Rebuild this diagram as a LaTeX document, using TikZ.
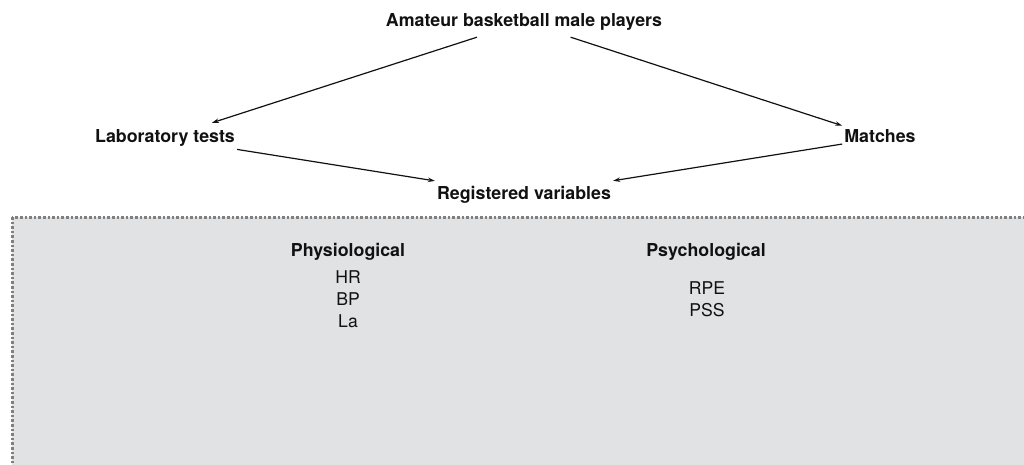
\documentclass[tikz,border=0pt]{standalone}
\usepackage{fontspec}
\setmainfont{TeX Gyre Heros}
\usetikzlibrary{arrows.meta}
\definecolor{panelfill}{HTML}{E1E2E4}
\definecolor{paneldot}{HTML}{808080}
\definecolor{ink}{HTML}{111111}
\begin{document}
\begin{tikzpicture}[x=1pt,y=-1pt,
  lbl/.style={font=\fontsize{17.8}{20}\selectfont\bfseries, text=ink, inner sep=2pt, text height=12.5pt, text depth=3.5pt, minimum height=30pt},
  item/.style={font=\fontsize{17.6}{20}\selectfont, text=ink, inner sep=1pt},
  conn/.style={draw=ink, line width=1.2pt, -{Stealth[length=7pt,width=4.5pt]}}]
\useasboundingbox (0,0) rectangle (1024,465);
\begin{scope}
\clip (0,0) rectangle (1024,465);
\draw[fill=panelfill, draw=paneldot, line width=3pt, dash pattern=on 2.6pt off 2pt] (12,217) rectangle (1040,480);
\end{scope}
\node[lbl] (top) at (524,22) {Amateur basketball male players};
\node[lbl] (lab) at (165,138) {Laboratory tests};
\node[lbl] (mat) at (880,138) {Matches};
\node[lbl] (reg) at (524,195) {Registered variables};
\draw[conn] (top) -- (lab);
\draw[conn] (top) -- (mat);
\draw[conn] (lab) -- (reg);
\draw[conn] (mat) -- (reg);
\node[lbl, minimum height=0pt] (phys) at (348,252) {Physiological};
\node[item] (hr) at (348,277) {HR};
\node[item] (bp) at (348,299) {BP};
\node[item] (la) at (348,321) {La};
\node[lbl, minimum height=0pt] (psy) at (706,252) {Psychological};
\node[item] (rpe) at (707,288) {RPE};
\node[item] (pss) at (707,310) {PSS};
\end{tikzpicture}
\end{document}
